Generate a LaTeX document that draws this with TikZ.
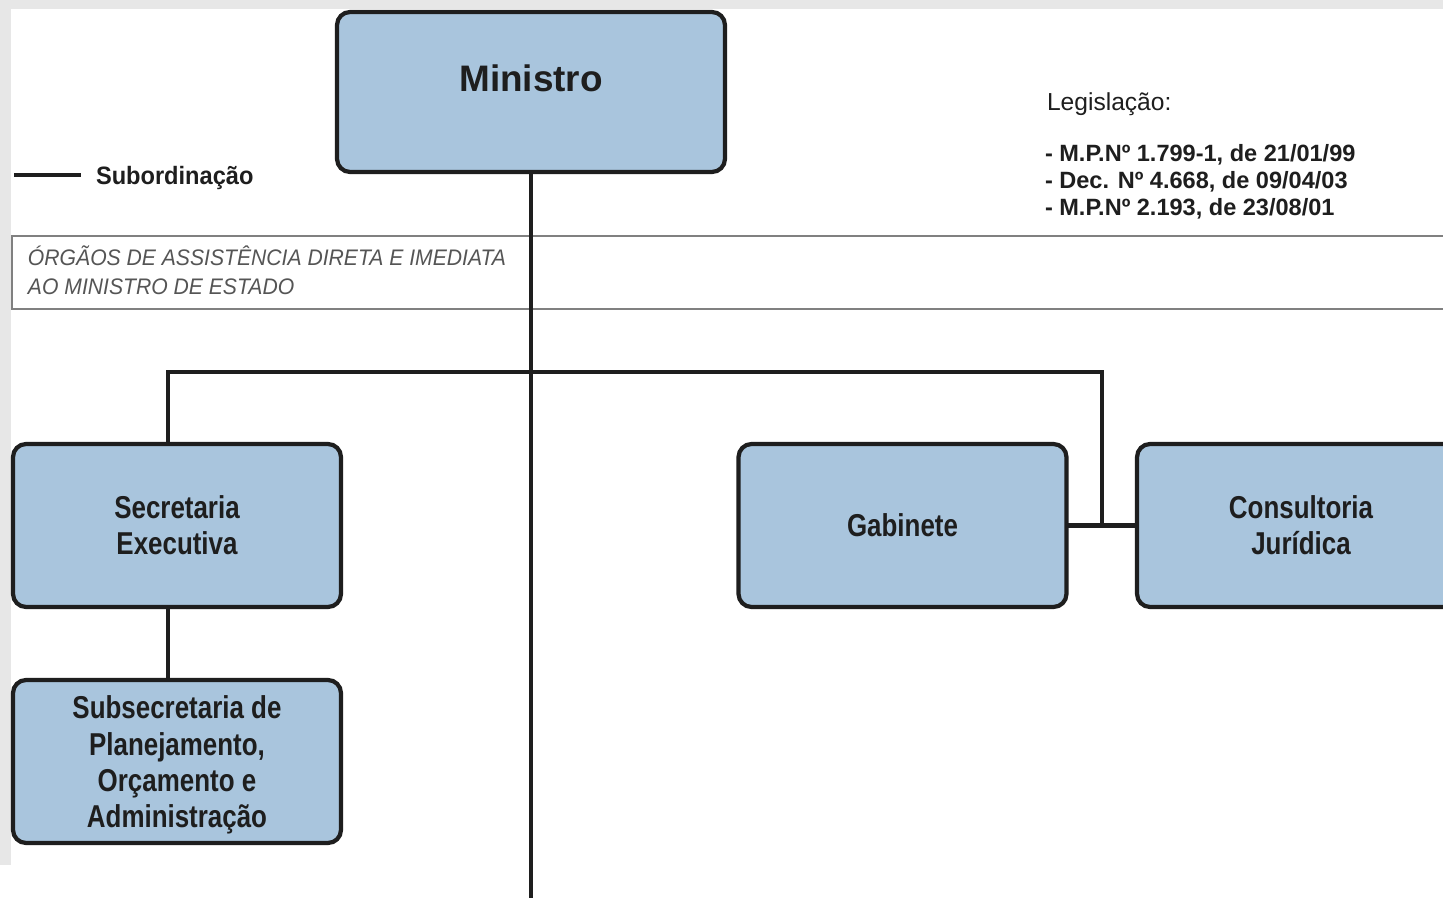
\documentclass[tikz,border=0pt]{standalone}
\usepackage{fontspec}
\setmainfont{Liberation Sans}
\newfontfamily\narrowsf[FakeStretch=0.82]{Liberation Sans}
\newfontfamily\midsf[FakeStretch=0.94]{Liberation Sans}
\definecolor{boxfill}{HTML}{A9C5DD}
\definecolor{ink}{HTML}{1E1E1E}
\definecolor{bandline}{HTML}{808080}
\definecolor{bandtext}{HTML}{555555}
\definecolor{bggrey}{HTML}{E7E7E7}
\begin{document}
\begin{tikzpicture}[x=0.02cm,y=-0.02cm,
  orgbox/.style={draw=ink, fill=boxfill, line width=2.4pt, rounded corners=0.26cm,
     inner sep=0pt, outer sep=0pt, align=center, text=ink},
  smallbox/.style={orgbox, minimum width=6.56cm, minimum height=3.26cm,
     font=\narrowsf\bfseries\fontsize{18}{20.6}\selectfont},
  link/.style={draw=ink, line width=2.3pt},
  plain/.style={inner sep=0pt, outer sep=0pt, anchor=base west, text=ink}]
% background
\fill[bggrey] (0,0) rectangle (1443,898);
\fill[white] (11,9) rectangle (1443,898);
\fill[white] (0,865) rectangle (11,898);
\useasboundingbox (0,0) rectangle (1443,898);
% band
\draw[bandline, line width=1.5pt] (11,236) -- (1443,236);
\draw[bandline, line width=1.5pt] (11,309) -- (1443,309);
\draw[bandline, line width=0.6pt] (12,236) -- (12,309);
\node[plain, text=bandtext, font=\midsf\itshape\fontsize{12.8}{14}\selectfont] (band1) at (28,266) {ÓRGÃOS DE ASSISTÊNCIA DIRETA E IMEDIATA};
\node[plain, text=bandtext, font=\midsf\itshape\fontsize{12.8}{14}\selectfont] (band2) at (28,295) {AO MINISTRO DE ESTADO};
% legend
\coordinate (lg1) at (14,175);
\coordinate (lg2) at (81,175);
\draw[ink, line width=1.8pt] (lg1) -- (lg2);
\node[plain, font=\midsf\bfseries\fontsize{14.3}{16}\selectfont] (sub) at (96,185) {Subordinação};
% legislation
\node[plain, font=\fontsize{14}{16}\selectfont] (leg) at (1047,111) {Legislação:};
\node[plain, font=\bfseries\fontsize{13.4}{15}\selectfont] (leg1) at (1045,162) {- M.P.Nº 1.799-1, de 21/01/99};
\node[plain, font=\bfseries\fontsize{13.4}{15}\selectfont] (leg2) at (1045,189) {- Dec. Nº 4.668, de 09/04/03};
\node[plain, font=\bfseries\fontsize{13.4}{15}\selectfont] (leg3) at (1045,216) {- M.P.Nº 2.193, de 23/08/01};
% boxes
\node[orgbox, minimum width=7.76cm, minimum height=3.2cm,
      font=\bfseries\fontsize{21}{23}\selectfont] (min) at (531,92) {\raisebox{0pt}[0pt][0pt]{Ministro}};
\node[smallbox] (sec) at (177,525.5) {Secretaria\\Executiva};
\node[smallbox] (subs) at (177,761.5) {\raisebox{-0.24cm}[0pt][0pt]{\begin{tabular}{@{}c@{}}Subsecretaria de\\Planejamento,\\Orçamento e\\Administração\end{tabular}}};
\node[smallbox] (gab) at (902.5,525.5) {Gabinete};
\node[smallbox] (cons) at (1301,525.5) {Consultoria\\Jurídica};
% connectors
\coordinate (bot) at (531,900);
\coordinate (jl) at (168,372);
\coordinate (jr) at (1102,372);
\coordinate (jm) at (1102,526);
\draw[link] (min.south) -- (bot);
\draw[link] (jl |- sec.north) -- (jl) -- (jr) -- (jm);
\draw[link] (gab.east) -- (cons.west);
\draw[link] (jl |- sec.south) -- (jl |- subs.north);
\end{tikzpicture}
\end{document}
